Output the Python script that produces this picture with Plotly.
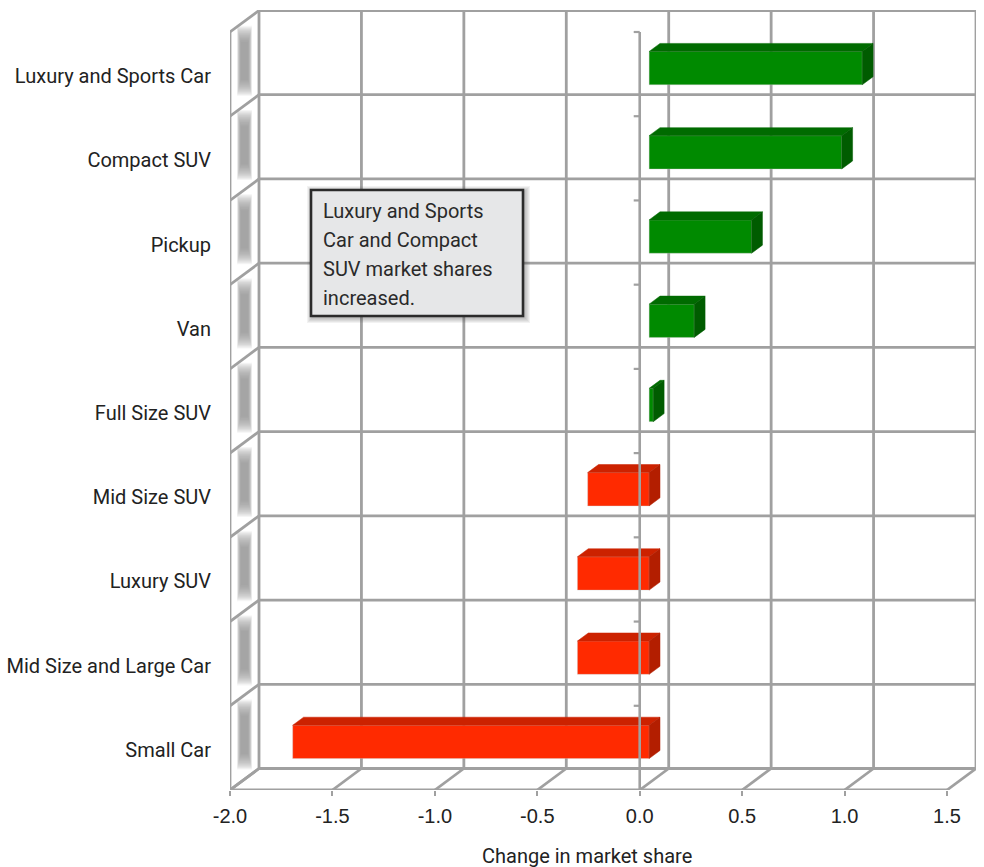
import plotly.graph_objects as go

categories = ["Small Car", "Mid Size and Large Car", "Luxury SUV", "Mid Size SUV",
              "Full Size SUV", "Van", "Pickup", "Compact SUV", "Luxury and Sports Car"]
values = [-1.74, -0.35, -0.35, -0.30, 0.02, 0.22, 0.50, 0.94, 1.04]
x_ticks = [-2.0, -1.5, -1.0, -0.5, 0.0, 0.5, 1.0, 1.5]
x_tick_labels = ["-2.0", "-1.5", "-1.0", "-0.5", "0.0", "0.5", "1.0", "1.5"]
note_lines = ["Luxury and Sports", "Car and Compact", "SUV market shares", "increased."]
x_title = "Change in market share"

W, H = 984, 867
LEFT, RIGHT_EDGE, TOP, FLOOR = 230, 976, 10, 790
PXX = 717 / 3.5
PXY = 758 / 9
X0 = -2.0
XMAX = X0 + (RIGHT_EDGE - LEFT) / PXX
YMAX = (FLOOR - TOP) / PXY
DX, DY = 29 / PXX, 21.5 / PXY          # wall depth in axis units
GRID = "#a0a0a0"
LABEL_FONT = "Roboto"
n = len(categories)

fig = go.Figure()
shapes = []


def line(x0, y0, x1, y1, w=2.8, color=GRID):
    shapes.append(dict(type="line", xref="x", yref="y", x0=x0, y0=y0, x1=x1, y1=y1,
                       line=dict(color=color, width=w), layer="below"))


# left wall blurred panels
LAYERS = 16
for i in range(n):
    cx = X0 + DX * 0.5
    cy = i + 0.5 + DY * 0.5 + 0.03
    for k in range(LAYERS):
        f = k / (LAYERS - 1)
        hw = (7.4 - 3.6 * f) / PXX
        hh = (35.0 - 16.0 * f) / PXY
        shapes.append(dict(type="rect", xref="x", yref="y", layer="below",
                           x0=cx - hw, x1=cx + hw, y0=cy - hh, y1=cy + hh,
                           fillcolor="#8c8c8c", opacity=0.09, line=dict(width=0)))

# back wall vertical lines and floor depth lines
for t in x_ticks:
    line(t + DX, DY, t + DX, n + DY)
    line(t, 0, t + DX, DY)
# left wall, back wall horizontals
for i in range(n + 1):
    line(X0, i, X0 + DX, i + DY)
    line(X0 + DX, i + DY, x_ticks[-1] + DX, i + DY)
# front floor, left front edge
line(X0, 0, x_ticks[-1], 0)
line(X0, 0, X0, n)

# bars: depth placement expressed as a fraction of the wall depth
F0, F1 = 0.325, 0.70
BAR_H = 33.3 / PXY
BASE = F0 * DX
YSHIFT = -1 / PXY
COL = {True: ("#008a00", "#006b00", "#005c00"), False: ("#ff2a00", "#cc2200", "#b31e00")}

# front faces
for pos in (True, False):
    idx = [i for i, v in enumerate(values) if (v >= 0) == pos]
    fig.add_trace(go.Bar(
        orientation="h",
        y=[i + 0.5 + F0 * DY + YSHIFT for i in idx],
        x=[values[i] for i in idx],
        base=[BASE] * len(idx),
        width=BAR_H,
        marker=dict(color=COL[pos][0], line=dict(color="rgba(205,205,205,0.45)", width=0.8)),
        showlegend=False, hoverinfo="skip",
    ))

DDX, DDY = (F1 - F0) * DX, (F1 - F0) * DY
for i, v in enumerate(values):
    c = COL[v >= 0]
    yc = i + 0.5 + F0 * DY + YSHIFT
    x0, x1 = sorted((BASE, BASE + v))
    yb, yt = yc - BAR_H / 2, yc + BAR_H / 2
    fig.add_trace(go.Scatter(
        x=[x0, x1, x1 + DDX, x0 + DDX, x0], y=[yt, yt, yt + DDY, yt + DDY, yt],
        mode="lines", fill="toself", fillcolor=c[1],
        line=dict(color=c[1], width=0.5), showlegend=False, hoverinfo="skip"))
    fig.add_trace(go.Scatter(
        x=[x1, x1 + DDX, x1 + DDX, x1, x1], y=[yb, yb + DDY, yt + DDY, yt, yb],
        mode="lines", fill="toself", fillcolor=c[2],
        line=dict(color=c[2], width=0.5), showlegend=False, hoverinfo="skip"))

# zero axis line and its ticks, over the bars
fig.add_trace(go.Scatter(x=[0, 0], y=[0, n], mode="lines",
                         line=dict(color="#a0a0a0", width=2.6),
                         showlegend=False, hoverinfo="skip"))
for i in range(1, n + 1):
    fig.add_trace(go.Scatter(x=[-6 / PXX, 0], y=[i, i], mode="lines",
                             line=dict(color="#a0a0a0", width=2.2),
                             showlegend=False, hoverinfo="skip"))

# note box
BOX = (311, 190, 523, 316)
top_shapes = []
for k in range(6, 0, -1):
    top_shapes.append(dict(type="rect", xref="x", yref="y",
                           x0=X0 + (BOX[0] - LEFT - k + 2) / PXX, x1=X0 + (BOX[2] - LEFT + k + 1) / PXX,
                           y0=(FLOOR - BOX[3] - k - 1) / PXY, y1=(FLOOR - BOX[1] + k - 2) / PXY,
                           fillcolor="#404040", opacity=0.07, line=dict(width=0), layer="above"))
top_shapes.append(dict(type="rect", xref="x", yref="y",
                       x0=X0 + (BOX[0] - LEFT) / PXX, x1=X0 + (BOX[2] - LEFT) / PXX,
                       y0=(FLOOR - BOX[3]) / PXY, y1=(FLOOR - BOX[1]) / PXY,
                       fillcolor="#e6e7e8", line=dict(color="#2b2b2b", width=2.6), layer="above"))

annotations = []
for j, t in enumerate(note_lines):
    annotations.append(dict(
        text=t, xref="x", yref="y", showarrow=False, xanchor="left", yanchor="middle",
        x=X0 + (320.5 - LEFT) / PXX, y=(FLOOR - (211 + 29 * j)) / PXY,
        font=dict(family=LABEL_FONT, size=20, color="#2a2a2a")))
annotations.append(dict(
    text=x_title, xref="x", yref="paper", showarrow=False, xanchor="center", yanchor="middle",
    x=X0 + (587 - LEFT) / PXX, y=-(856 - FLOOR) / (FLOOR - TOP),
    font=dict(family=LABEL_FONT, size=20, color="#222")))

fig.update_layout(
    width=W, height=H, autosize=False,
    margin=dict(l=LEFT, r=W - RIGHT_EDGE, t=TOP, b=H - FLOOR, pad=0),
    paper_bgcolor="white", plot_bgcolor="white",
    barmode="overlay", showlegend=False,
    shapes=shapes + top_shapes, annotations=annotations,
    xaxis=dict(range=[X0, XMAX], tickmode="array", tickvals=x_ticks, ticktext=x_tick_labels,
               ticks="outside", ticklen=5, tickcolor=GRID, tickwidth=2, showgrid=False, zeroline=False,
               showline=False, ticklabelstandoff=3, automargin=False,
               tickfont=dict(family="Liberation Sans", size=20, color="#222")),
    yaxis=dict(range=[0, YMAX], tickmode="array",
               tickvals=[i + 0.5 - 2 / PXY for i in range(n)], ticktext=categories,
               ticks="", showgrid=False, zeroline=False, showline=False, ticklabelstandoff=18,
               automargin=False,
               tickfont=dict(family=LABEL_FONT, size=20, color="#222")),
)

fig.write_html("out.html", post_script="document.body.style.margin='0';",
               config={"displayModeBar": False})
